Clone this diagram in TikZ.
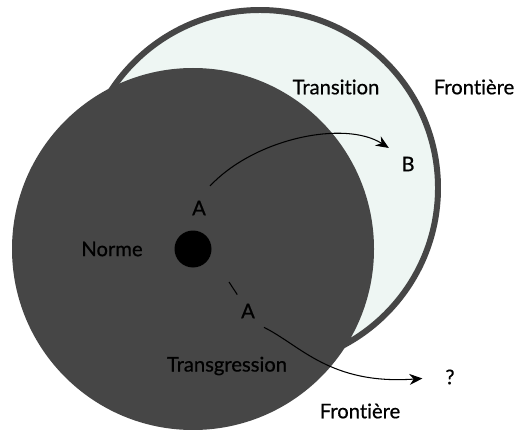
\documentclass[tikz,border=0pt]{standalone}
\usepackage{fontspec}
\setmainfont{Lato}[Ligatures=NoCommon, FakeBold=0.7]
\usepackage{tikz}
\usetikzlibrary{arrows.meta,positioning,calc}
\definecolor{normgray}{RGB}{70,70,70}
\definecolor{paleteal}{RGB}{238,246,243}

\begin{document}
\begin{tikzpicture}[x=0.02cm, y=-0.02cm,
    lbl/.style={font=\fontsize{11.5}{13}\selectfont, text=black, inner sep=1pt},
    arr/.style={-{Stealth[length=2.6mm, width=2.2mm]}, semithick, black}]
    \useasboundingbox (0,0) rectangle (516,429);
    % zones
    \fill[paleteal, draw=normgray, line width=3.4pt] (260,188) circle (178);
    \fill[normgray] (193,249) circle (181);
    \node[circle, fill=black, minimum size=0.74cm, inner sep=0pt] (dot) at (193,249) {};
    % labels
    \node[lbl] (norme) at (112,249) {Norme};
    \node[lbl] (trans) at (336,87) {Transition};
    \node[lbl] (front1) at (474,87) {Frontière};
    \node[lbl] (transg) at (227,366) {Transgression};
    \node[lbl] (front2) at (360,411) {Frontière};
    \node[lbl] (a1) at (199,208) {A};
    \node[lbl] (b) at (408,164) {B};
    \node[lbl, fill=normgray, inner sep=5pt] (a2) at (248,311) {A};
    \node[lbl] (q) at (450,377) {?};
    \coordinate (s1) at (210,186);
    \coordinate (s2) at (229,282);
    % arrows
    \draw[arr, shorten >=0.25cm] (s1) .. controls (255,138) and (345,120) .. (b.north west);
    \draw[semithick] (s2) -- (a2);
    \draw[arr, shorten >=0.42cm] (a2.south east) .. controls (300,345) and (330,385) .. (q.west);
\end{tikzpicture}
\end{document}
